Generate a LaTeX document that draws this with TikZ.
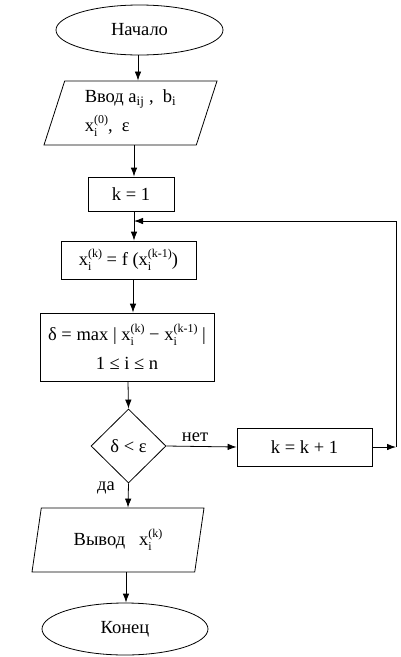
\documentclass[tikz,border=0pt]{standalone}
\usepackage{fontspec}
\setmainfont{Liberation Serif}
\usetikzlibrary{positioning,shapes.geometric,arrows.meta}
\newcommand{\xsup}[1]{x\raisebox{-0.25em}{\fontsize{12}{12}\selectfont\shortstack[l]{#1\\[-1pt]i}}}
\begin{document}
\begin{tikzpicture}[x=1pt,y=-1pt,line width=0.8pt,
	every node/.style={font=\fontsize{18.5}{29}\selectfont},
	term/.style={ellipse,draw,inner sep=0pt},
	io/.style={trapezium,trapezium left angle=66,trapezium right angle=114,
		trapezium stretches body,draw,inner sep=0pt},
	block/.style={rectangle,draw,inner sep=0pt},
	cond/.style={diamond,draw,inner sep=0pt,minimum width=75pt,minimum height=74pt},
	arr/.style={-{Latex[length=9pt,width=6.5pt]}}]
	\useasboundingbox (0,0) rectangle (401,657);
	\node [term,minimum width=167pt,minimum height=50pt] (start) at (139.5,30) {Начало};
	\node [io,minimum width=173pt,minimum height=64pt,align=left] (in) at (130.5,113)
		{Ввод a\textsubscript{ij} ,~~b\textsubscript{i}\\\xsup{(0)},~~ε};
	\node [block,minimum width=86pt,minimum height=34pt] (k1) at (131,194) {k = 1};
	\node [block,minimum width=135pt,minimum height=38pt] (xf) at (128.5,260)
		{\xsup{(k)} = f (\xsup{(k-1)})};
	\node [block,minimum width=174pt,minimum height=68pt,align=center] (delta) at (127,347)
		{δ = max | \xsup{(k)} − \xsup{(k-1)} |\\1 ≤ i ≤ n};
	\node [cond] (test) at (128.5,446) {δ < ε};
	\node [block,minimum width=135pt,minimum height=38pt] (kk) at (304.5,447) {k = k + 1};
	\node [io,minimum width=172pt,minimum height=64pt] (out) at (118,540) {Вывод~~~\xsup{(k)}};
	\node [term,minimum width=166pt,minimum height=52pt] (end) at (125,629) {Конец};
	\node (no) at (195,437) {нет};
	\node (yes) at (106,488) {да};
	\coordinate (r) at (396,447);
	\coordinate (j) at (134,221);
	% main line
	\draw[arr] (start.south -| 138,0) -- (138,0 |- in.north);
	\draw[arr] (134,0 |- in.south) -- (134,0 |- k1.north);
	\draw[arr] (134,0 |- k1.south) -- (134,0 |- xf.north);
	\draw[arr] (133,0 |- xf.south) -- (133,0 |- delta.north);
	\draw[arr] (128,0 |- delta.south) -- (test.north);
	\draw[arr] (test.south) -- (128,0 |- out.north);
	\draw[arr] (126,0 |- out.south) -- (126,0 |- end.north);
	% loop
	\draw[arr] (test.east) -- (kk.west);
	\draw[arr] (kk.east) -- (r);
	\draw[arr] (r) |- (j);
\end{tikzpicture}
\end{document}
